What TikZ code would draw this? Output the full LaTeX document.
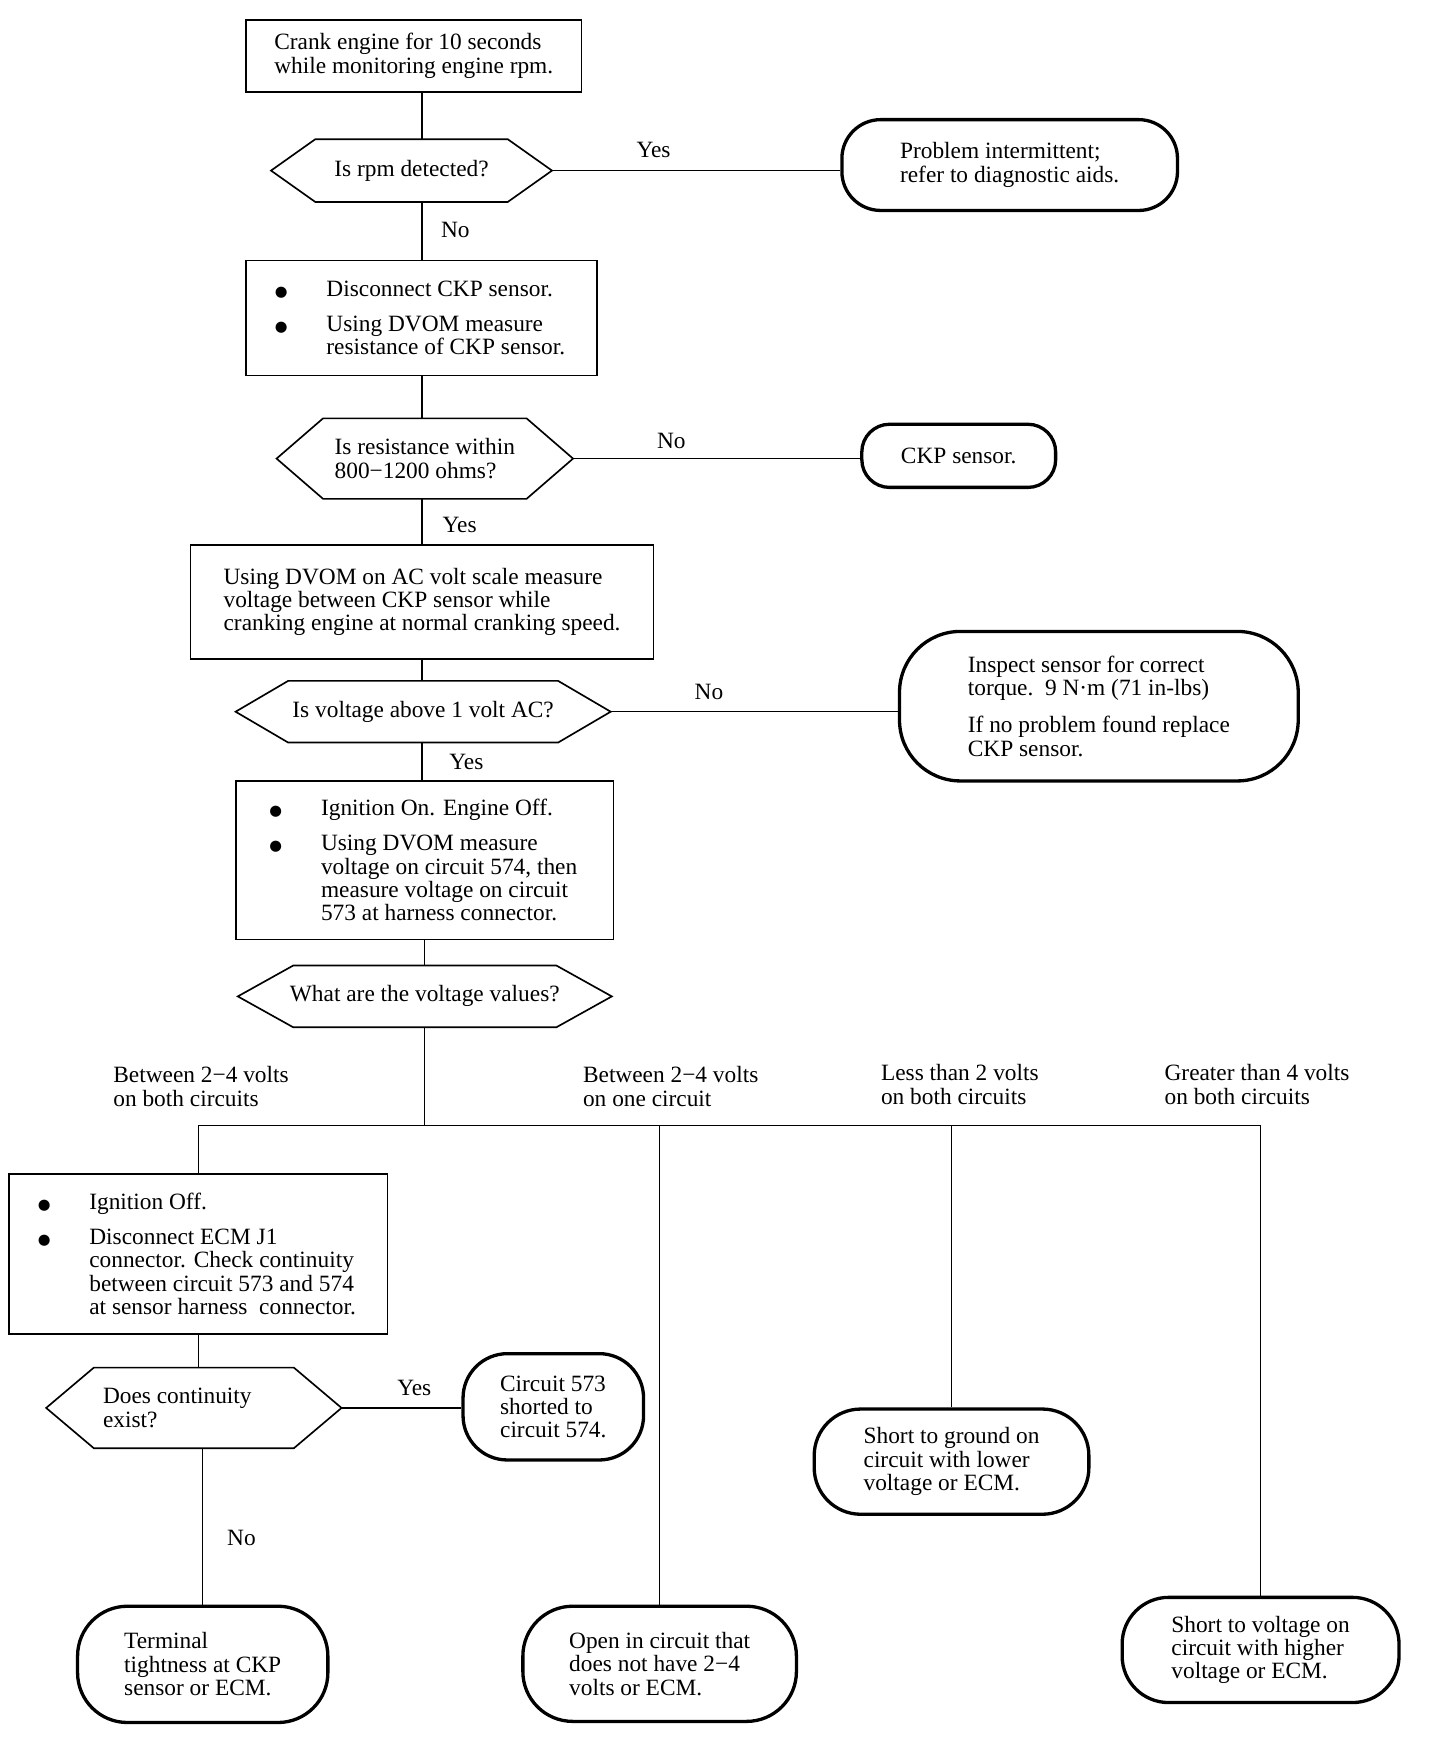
\documentclass[tikz,border=0pt]{standalone}
\usepackage{fontspec}
\setmainfont{Liberation Serif}
\newfontfamily\dejavu{DejaVu Sans}
\usetikzlibrary{calc}
\newcommand\bul{\makebox[25pt][l]{\hspace*{-1.5pt}{\dejavu\fontsize{7.5}{7.5}\selectfont ●}}}
\newcommand\ind{\hspace*{25pt}}
\newcommand\hexshape[2]{\draw[line width=0.85pt] (#1.west) -- ([xshift=#2]#1.north west) -- ([xshift=-#2]#1.north east) -- (#1.east) -- ([xshift=-#2]#1.south east) -- ([xshift=#2]#1.south west) -- cycle;}
\begin{document}
\begin{tikzpicture}[x=0.02cm,y=-0.02cm,
  every node/.style={font=\fontsize{12}{12}\selectfont, inner sep=0pt, align=left},
  boxn/.style 2 args={draw, line width=0.85pt, rectangle, minimum width=#1, minimum height=#2},
  hexn/.style 2 args={rectangle, minimum width=#1, minimum height=#2},
  ovaln/.style={draw, line width=1.7pt, rounded corners=#1},
  conn/.style={line width=0.6pt},
  lab/.style={}
]
\fill[white] (0,0) rectangle (1300,1572.6);
\useasboundingbox (0,0) rectangle (1300,1572.6);

% main column
\node[boxn={6.06cm}{1.30cm}] (b1) at (373.5,50.5) {Crank engine for 10 seconds\\while monitoring engine rpm.};
\node[hexn={5.06cm}{1.12cm}] (h1) at (371.5,154) {Is rpm detected?};
\hexshape{h1}{0.8cm}
\node[ovaln=0.7cm, minimum width=6.06cm, minimum height=1.64cm] (o1) at (911.5,149) {Problem intermittent;\\refer to diagnostic aids.};

\node[boxn={6.34cm}{2.08cm}] (b2) at (380.5,287) {\bul Disconnect CKP sensor.\\[6pt]\bul Using DVOM measure\\\ind resistance of CKP sensor.};
\node[hexn={5.34cm}{1.44cm}] (h2) at (383.5,414) {Is resistance within\\800−1200 ohms?};
\hexshape{h2}{0.84cm}
\node[ovaln=0.5cm, minimum width=3.5cm, minimum height=1.14cm] (o2) at (865.5,411.5) {CKP sensor.};

\node[boxn={8.36cm}{2.06cm}] (b3) at (381,543.5) {Using DVOM on AC volt scale measure\\voltage between CKP sensor while\\cranking engine at normal cranking speed.};
\node[hexn={6.76cm}{1.10cm}] (h3) at (382,642.5) {Is voltage above 1 volt AC?};
\hexshape{h3}{0.95cm}
\node[ovaln=1.1cm, minimum width=7.2cm, minimum height=2.7cm] (o3) at (992,637.5) {Inspect sensor for correct\\torque.\ \ 9 N·m (71 in-lbs)\\[7pt]If no problem found replace\\CKP sensor.};

\node[boxn={6.82cm}{2.86cm}] (b4) at (383.5,776.5) {\bul Ignition On. Engine Off.\\[6pt]\bul Using DVOM measure\\\ind voltage on circuit 574, then\\\ind measure voltage on circuit\\\ind 573 at harness connector.};
\node[hexn={6.74cm}{1.10cm}] (h4) at (383.5,899.5) {What are the voltage values?};
\hexshape{h4}{1.0cm}

% branch labels
\node[anchor=west] (l1) at (102,981) {Between 2−4 volts\\on both circuits};
\node[anchor=west] (l2) at (526,981) {Between 2−4 volts\\on one circuit};
\node[anchor=west] (l3) at (795,979) {Less than 2 volts\\on both circuits};
\node[anchor=west] (l4) at (1051,979) {Greater than 4 volts\\on both circuits};

% lower part
\node[boxn={6.84cm}{2.88cm}] (b5) at (179,1132) {\bul Ignition Off.\\[6pt]\bul Disconnect ECM J1\\\ind connector. Check continuity\\\ind between circuit 573 and 574\\\ind at sensor harness\ \ connector.};
\node[hexn={5.32cm}{1.44cm}] (h5) at (175,1271) {Does continuity\hspace*{17pt}\\exist?};
\hexshape{h5}{0.86cm}
\node[ovaln=0.8cm, minimum width=3.26cm, minimum height=1.92cm] (o5) at (499.5,1270) {Circuit 573\\shorted to\\circuit 574.};
\node[ovaln=0.9cm, minimum width=4.52cm, minimum height=2.1cm] (o6) at (183,1502.5) {Terminal\\tightness at CKP\\sensor or ECM.};
\node[ovaln=0.9cm, minimum width=4.94cm, minimum height=2.08cm] (o7) at (595.5,1502) {Open in circuit that\\does not have 2−4\\volts or ECM.};
\node[ovaln=0.84cm, minimum width=4.96cm, minimum height=1.9cm] (o8) at (859,1319.5) {Short to ground on\\circuit with lower\\voltage or ECM.};
\node[ovaln=0.84cm, minimum width=5.0cm, minimum height=1.9cm] (o9) at (1138,1489.5) {Short to voltage on\\circuit with higher\\voltage or ECM.};

% connectors
\coordinate (t) at (381,0);
\coordinate (j) at (383,1016);
\draw[conn] (b1.south -| t) -- (h1.north -| t);
\draw[conn] (h1.south -| t) -- (b2.north -| t);
\draw[conn] (b2.south -| t) -- (h2.north -| t);
\draw[conn] (h2.south -| t) -- (b3.north -| t);
\draw[conn] (b3.south -| t) -- (h3.north -| t);
\draw[conn] (h3.south -| t) -- (b4.north -| t);
\draw[conn] (b4.south -| j) -- (h4.north -| j);
\draw[conn] (h4.south -| j) -- (j);
\draw[conn] (h1.east) -- (h1.east -| o1.west);
\draw[conn] (h2.east) -- (h2.east -| o2.west);
\draw[conn] (h3.east) -- (h3.east -| o3.west);
\draw[conn] (b5.north) -- (b5.north |- j) -- (j -| o9.north) -- (o9.north);
\draw[conn] (j -| o7.north) -- (o7.north);
\draw[conn] (j -| o8.north) -- (o8.north);
\draw[conn] (b5.south) -- (b5.south |- h5.north);
\draw[conn] (h5.south -| o6.north) -- (o6.north);
\draw[conn] (h5.east) -- (h5.east -| o5.west);

% connector labels
\node[lab] (y1) at (590,135) {Yes};
\node[lab] (n1) at (411,208) {No};
\node[lab] (n2) at (606,398) {No};
\node[lab] (y2) at (415,474) {Yes};
\node[lab] (n3) at (640,625) {No};
\node[lab] (y3) at (421,688) {Yes};
\node[lab] (y4) at (374,1253) {Yes};
\node[lab] (n4) at (218,1388) {No};
\end{tikzpicture}
\end{document}
